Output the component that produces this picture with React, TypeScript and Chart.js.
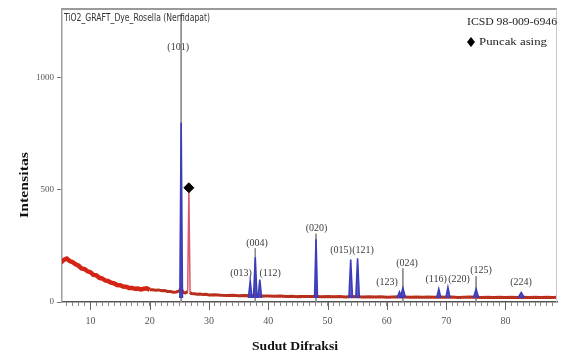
import React, { useEffect, useRef } from "react";
import { Chart, registerables } from "chart.js";
Chart.register(...registerables);

// Measured pattern (red)
const redAngle = [
  5, 5.5, 6, 6.5, 7, 7.5, 8, 8.5, 9, 9.5, 10, 10.5, 11, 11.5, 12, 12.5, 13, 13.5, 14, 14.5,
  15, 15.5, 16, 16.5, 17, 17.5, 18, 18.5, 19, 19.5, 20, 20.5, 21, 21.5, 22, 22.5, 23, 23.5, 24, 24.5,
  25, 25.3, 25.6, 26, 26.4, 26.6, 26.8, 27, 27.5, 28, 28.5, 29, 29.5, 30,
  31, 32, 33, 34, 35, 36, 37, 38, 39, 40, 41, 42, 43, 44, 45, 46, 47, 48, 49, 50,
  51, 52, 53, 54, 55, 56, 57, 58, 59, 60, 61, 62, 63, 64, 65, 66, 67, 68, 69, 70,
  71, 72, 73, 74, 75, 76, 77, 78, 79, 80, 81, 82, 83, 84, 85, 86, 87, 88, 89,
];
const redIntensity = [
  176, 188, 194, 183, 178, 168, 162, 150, 147, 137, 133, 121, 119, 108, 105, 96, 93, 86, 83, 76,
  75, 69, 68, 63, 63, 59, 60, 56, 59, 61, 55, 55, 53, 54, 50, 51, 47, 47, 44, 45,
  50, 62, 43, 41, 46, 500, 44, 38, 37, 35, 36, 33, 34, 31,
  32, 30, 29, 30, 28, 29, 28, 30, 27, 27, 26, 27, 25, 26, 24, 25, 24, 25, 23, 24,
  23, 24, 22, 24, 23, 22, 23, 22, 23, 21, 22, 23, 22, 21, 22, 21, 22, 21, 22, 21,
  22, 20, 21, 22, 21, 20, 21, 20, 21, 20, 21, 20, 21, 20, 21, 20, 21, 20, 21,
];

// Reference pattern ICSD 98-009-6946 (blue)
const peakAngle = [25.3, 36.95, 37.8, 38.57, 48.05, 53.9, 55.06, 62.12, 62.7, 68.76, 70.3, 75.05, 82.66];
const peakHeight = [800, 95, 200, 100, 280, 190, 195, 45, 62, 58, 65, 58, 42];
const peakHalfWidth = [0.22, 0.3, 0.3, 0.3, 0.25, 0.3, 0.3, 0.4, 0.45, 0.35, 0.35, 0.45, 0.55];
const peakBase = 18;

// Leader lines from labels
const leaderAngle = [25.3, 37.8, 48.05, 62.7, 75.05];
const leaderTop = [1285, 240, 305, 150, 115];

// hkl labels
const labelText = ["(101)", "(013)", "(004)", "(112)", "(020)", "(015)", "(121)", "(123)", "(024)", "(116)", "(220)", "(125)", "(224)"];
const labelAngle = [24.79, 35.41, 38.11, 40.3, 48.15, 52.28, 55.99, 60.03, 63.41, 68.3, 72.18, 75.89, 82.63];
const labelIntensity = [1138, 129, 263, 129, 330, 232, 232, 89, 174, 103, 103, 143, 89];

// Foreign peak marker
const foreignAngle = [26.6];
const foreignIntensity = [510];

const xMin = 5.2;
const xMax = 88.7;
const yMin = 0;
const yMax = 1308;
const xMajorTicks = [10, 20, 30, 40, 50, 60, 70, 80];
const yTicks = [0, 500, 1000];

const sampleTitle = "TiO2_GRAFT_Dye_Rosella (Nerfidapat)";
const refTitle = "ICSD 98-009-6946";
const foreignLabel = "Puncak asing";
const xTitle = "Sudut Difraksi";
const yTitle = "Intensitas";

function drawFitted(ctx: CanvasRenderingContext2D, text: string, x: number, y: number, width: number) {
  const w = ctx.measureText(text).width;
  ctx.save();
  ctx.translate(x, y);
  ctx.scale(width / w, 1);
  ctx.fillText(text, 0, 0);
  ctx.restore();
}

const overlay = {
  id: "overlay",
  afterDatasetsDraw(chart: any) {
    const ctx = chart.ctx as CanvasRenderingContext2D;
    const xs = chart.scales.x;
    const ys = chart.scales.y;
    ctx.save();
    ctx.font = "10px 'Liberation Serif'";
    ctx.fillStyle = "#3a3a3a";
    ctx.textAlign = "center";
    ctx.textBaseline = "middle";
    labelText.forEach((t, i) => {
      ctx.fillText(t, xs.getPixelForValue(labelAngle[i]), ys.getPixelForValue(labelIntensity[i]));
    });
    ctx.restore();
  },
  afterDraw(chart: any) {
    const ctx = chart.ctx as CanvasRenderingContext2D;
    const a = chart.chartArea;
    const xs = chart.scales.x;
    ctx.save();
    // frame
    ctx.strokeStyle = "#9a9a9a";
    ctx.lineWidth = 2;
    ctx.beginPath();
    ctx.moveTo(a.left, a.top);
    ctx.lineTo(a.right, a.top);
    ctx.stroke();
    ctx.lineWidth = 1;
    ctx.strokeStyle = "#c8c8c8";
    ctx.beginPath();
    ctx.moveTo(a.right - 0.5, a.top);
    ctx.lineTo(a.right - 0.5, a.bottom);
    ctx.stroke();
    // major x ticks
    ctx.strokeStyle = "#666";
    ctx.lineWidth = 1;
    xMajorTicks.forEach((v) => {
      const px = Math.round(xs.getPixelForValue(v)) + 0.5;
      ctx.beginPath();
      ctx.moveTo(px, a.bottom);
      ctx.lineTo(px, a.bottom + 8);
      ctx.stroke();
    });
    // sample title
    ctx.fillStyle = "#333";
    ctx.textBaseline = "middle";
    ctx.textAlign = "left";
    ctx.font = "11px 'Liberation Sans Narrow', 'DejaVu Sans Condensed', sans-serif";
    drawFitted(ctx, sampleTitle, a.left + 2, a.top + 9, 146);
    // legend
    ctx.font = "10px 'Liberation Serif'";
    ctx.fillStyle = "#222";
    const lx = a.right - 90;
    drawFitted(ctx, refTitle, lx, a.top + 13, 90);
    ctx.fillStyle = "#000";
    ctx.beginPath();
    const dy = a.top + 33;
    ctx.moveTo(lx + 4, dy - 5);
    ctx.lineTo(lx + 8, dy);
    ctx.lineTo(lx + 4, dy + 5);
    ctx.lineTo(lx, dy);
    ctx.closePath();
    ctx.fill();
    ctx.fillStyle = "#222";
    drawFitted(ctx, foreignLabel, lx + 12, dy, 68);
    // axis titles
    ctx.fillStyle = "#111";
    ctx.font = "bold 13px 'Liberation Serif'";
    ctx.textAlign = "left";
    const xw = 86;
    drawFitted(ctx, xTitle, 295 - xw / 2, 347, xw);
    ctx.save();
    ctx.translate(25, 185);
    ctx.rotate(-Math.PI / 2);
    drawFitted(ctx, yTitle, -33, 0, 66);
    ctx.restore();
    ctx.restore();
  },
};

export default function App() {
  const ref = useRef<HTMLCanvasElement | null>(null);
  useEffect(() => {
    if (!ref.current) return;
    const redData = redAngle.map((x, i) => ({ x, y: redIntensity[i] }));
    const blueData: any[] = [];
    peakAngle.forEach((p, i) => {
      blueData.push({ x: p - peakHalfWidth[i], y: peakBase });
      blueData.push({ x: p, y: peakHeight[i] });
      blueData.push({ x: p + peakHalfWidth[i], y: peakBase });
      blueData.push({ x: p + peakHalfWidth[i] + 0.01, y: null });
    });
    const leaderData: any[] = [];
    leaderAngle.forEach((p, i) => {
      leaderData.push({ x: p, y: leaderTop[i] });
      leaderData.push({ x: p, y: 0 });
      leaderData.push({ x: p + 0.01, y: null });
    });
    const markerData = foreignAngle.map((x, i) => ({ x, y: foreignIntensity[i] }));

    const chart = new Chart(ref.current, {
      type: "line",
      data: {
        datasets: [
          {
            label: "Puncak asing",
            data: markerData,
            showLine: false,
            pointStyle: "rectRot",
            pointRadius: 5,
            pointBackgroundColor: "#000",
            pointBorderColor: "#000",
          },
          {
            label: "ICSD 98-009-6946",
            data: blueData,
            borderColor: "#3b3db8",
            backgroundColor: "rgba(70,60,190,0.85)",
            fill: { value: peakBase },
            borderWidth: 1.6,
            pointRadius: 0,
            spanGaps: false,
          },
          {
            label: "Sampel",
            data: redData,
            borderColor: "#d0281a",
            pointRadius: 0,
            borderWidth: 3,
            segment: {
              borderWidth: (c: any) => {
                const x0 = c.p0.parsed.x;
                if (x0 >= 26.3 && x0 <= 26.7) return 1.5;
                return x0 < 20 ? 4.5 : 3;
              },
              borderColor: (c: any) => {
                const x0 = c.p0.parsed.x;
                if (x0 >= 26.3 && x0 <= 26.7) return "#d95a6a";
                return x0 < 20 ? "#d42414" : "#b8301c";
              },
            },
          },
          {
            label: "leader",
            data: leaderData,
            borderColor: "#8c8c8c",
            borderWidth: 1,
            pointRadius: 0,
            spanGaps: false,
          },
        ],
      },
      options: {
        responsive: false,
        animation: false,
        events: [],
        layout: { padding: { top: 9, right: 8, left: 0, bottom: 0 } },
        plugins: { legend: { display: false }, tooltip: { enabled: false } },
        scales: {
          x: {
            type: "linear",
            min: xMin,
            max: xMax,
            afterBuildTicks: (s: any) => {
              const t: any[] = [];
              for (let v = Math.ceil(xMin); v <= xMax; v++) t.push({ value: v });
              s.ticks = t;
            },
            afterFit: (s: any) => {
              s.height = 54;
            },
            ticks: {
              autoSkip: false,
              maxRotation: 0,
              padding: 9,
              color: "#555",
              font: { family: "'Liberation Serif'", size: 10 },
              callback: (v: any) => (v % 10 === 0 ? String(v) : ""),
            },
            grid: { drawOnChartArea: false, tickLength: 4, color: "#888" },
            border: { color: "#555", width: 1.5 },
          },
          y: {
            type: "linear",
            min: yMin,
            max: yMax,
            afterBuildTicks: (s: any) => {
              s.ticks = yTicks.map((v) => ({ value: v }));
            },
            afterFit: (s: any) => {
              s.width = 62;
            },
            ticks: {
              padding: 3,
              color: "#555",
              font: { family: "'Liberation Serif'", size: 9 },
              callback: (v: any) => String(v),
            },
            grid: { drawOnChartArea: false, tickLength: 5, color: "#777" },
            border: { color: "#a0a0a0", width: 1.5 },
          },
        },
      },
      plugins: [overlay],
    });
    return () => chart.destroy();
  }, []);
  return (
    <div style={{ position: "fixed", left: 0, top: 0, width: 565, height: 356, background: "#fff" }}>
      <canvas ref={ref} width={565} height={356} style={{ width: 565, height: 356, display: "block" }} />
    </div>
  );
}
